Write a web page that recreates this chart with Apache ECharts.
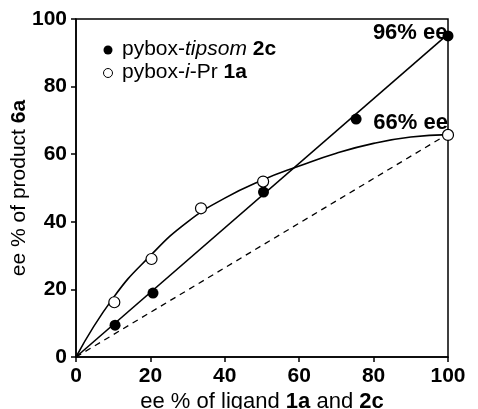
<!DOCTYPE html>
<html>
<head>
<meta charset="utf-8">
<script src="https://cdn.jsdelivr.net/npm/echarts@6/dist/echarts.min.js"></script>
<style>
html,body{margin:0;padding:0;background:#fff;}
#chart{width:478px;height:409px;}
</style>
</head>
<body>
<div id="chart"></div>
<script>
// ---- data ----
var tipsomX = [10.5, 20.7, 50.4, 75.3, 100];
var tipsomY = [9.4, 18.9, 48.8, 70.4, 95.0];
var iprX = [10.3, 20.3, 33.6, 50.3, 100];
var iprY = [16.2, 29.0, 44.0, 51.9, 65.7];
var fitTipsomX = [0, 100];
var fitTipsomY = [0, 95.5];
var fitIprX = [0, 10, 20, 30, 40, 50, 60, 70, 80, 90, 100];
var fitIprY = [0, 17.5, 30, 40, 47, 52.3, 56.5, 60.3, 63.2, 65.1, 65.8];
var refX = [0, 100];
var refY = [0, 66];
var endLabels = ['96% ee', '66% ee'];
var xTicks = [0, 20, 40, 60, 80, 100];
var yTicks = [0, 20, 40, 60, 80, 100];

function pairs(xs, ys) { return xs.map(function (x, i) { return [x, ys[i]]; }); }

var FONT = '"Liberation Sans", Arial, Helvetica, sans-serif';
var chart = echarts.init(document.getElementById('chart'), null, {renderer: 'canvas'});

function endLabel(text, offset) {
  return {show: true, position: 'left', formatter: text, offset: offset, opacity: 1,
    color: '#000', fontFamily: FONT, fontWeight: 'bold', fontSize: 22};
}
var tipsomData = pairs(tipsomX, tipsomY).map(function (p, i, a) {
  return i === a.length - 1 ? {value: p, label: endLabel(endLabels[0], [10, -3])} : p;
});
var iprData = pairs(iprX, iprY).map(function (p, i, a) {
  return i === a.length - 1 ? {value: p, label: endLabel(endLabels[1], [11, -12])} : p;
});

var axisCommon = {
  type: 'value', min: 0, max: 100, interval: 20,
  axisLine: {show: true, lineStyle: {color: '#000', width: 1.5}},
  axisTick: {show: true, inside: false, length: 5, lineStyle: {color: '#000', width: 1.5}},
  splitLine: {show: false},
  axisLabel: {color: '#000', fontFamily: FONT, fontWeight: 'bold', fontSize: 21, margin: 9}
};

chart.setOption({
  animation: false,
  backgroundColor: '#fff',
  grid: {left: 76, top: 19, right: 30, bottom: 52, containLabel: false, outerBoundsMode: 'none',
    show: true, borderColor: '#000', borderWidth: 1.5, backgroundColor: 'transparent'},
  xAxis: Object.assign({}, axisCommon, {
    name: 'ee % of ligand {b|1a} and {b|2c}',
    nameLocation: 'middle', nameGap: 34, nameMoveOverlap: false,
    nameTextStyle: {color: '#000', fontFamily: FONT, fontSize: 22,
      rich: {b: {fontWeight: 'bold', fontFamily: FONT, fontSize: 22, color: '#000'}}}
  }),
  yAxis: Object.assign({}, axisCommon, {
    name: 'ee % of product {b|6a}',
    nameLocation: 'middle', nameGap: 46, nameMoveOverlap: false,
    nameTextStyle: {color: '#000', fontFamily: FONT, fontSize: 21,
      rich: {b: {fontWeight: 'bold', fontFamily: FONT, fontSize: 21, color: '#000'}}}
  }),
  graphic: [
    {type: 'circle', shape: {cx: 108, cy: 50, r: 4.5}, style: {fill: '#000'}},
    {type: 'circle', shape: {cx: 108, cy: 73, r: 4.5}, style: {fill: '#fff', stroke: '#000', lineWidth: 1}},
    {type: 'text', left: 122, top: 39, style: {
      text: '{n|pybox-}{i|tipsom}{n| }{b|2c}',
      rich: {
        n: {fontFamily: FONT, fontSize: 21, fill: '#000'},
        i: {fontFamily: FONT, fontSize: 21, fontStyle: 'italic', fill: '#000'},
        b: {fontFamily: FONT, fontSize: 21, fontWeight: 'bold', fill: '#000'}
      }}},
    {type: 'text', left: 122, top: 62, style: {
      text: '{n|pybox-}{i|i}{n|-Pr }{b|1a}',
      rich: {
        n: {fontFamily: FONT, fontSize: 21, fill: '#000'},
        i: {fontFamily: FONT, fontSize: 21, fontStyle: 'italic', fill: '#000'},
        b: {fontFamily: FONT, fontSize: 21, fontWeight: 'bold', fill: '#000'}
      }}}
  ],
  series: [
    {type: 'line', data: pairs(refX, refY), showSymbol: false, symbol: 'none',
      lineStyle: {color: '#000', width: 1.3, type: [6, 5]}, z: 1},
    {type: 'line', data: pairs(fitTipsomX, fitTipsomY), showSymbol: false, symbol: 'none',
      lineStyle: {color: '#000', width: 1.6}, z: 2},
    {type: 'line', data: pairs(fitIprX, fitIprY), smooth: 0.5, showSymbol: false, symbol: 'none',
      lineStyle: {color: '#000', width: 1.6}, z: 2},
    {type: 'scatter', name: 'pybox-tipsom 2c', data: tipsomData, symbol: 'circle', symbolSize: 11,
      itemStyle: {color: '#000', opacity: 1}, z: 5},
    {type: 'scatter', name: 'pybox-i-Pr 1a', data: iprData, symbol: 'circle', symbolSize: 11,
      itemStyle: {color: '#fff', borderColor: '#000', borderWidth: 1.2, opacity: 1}, z: 5}
  ]
});
</script>
</body>
</html>
